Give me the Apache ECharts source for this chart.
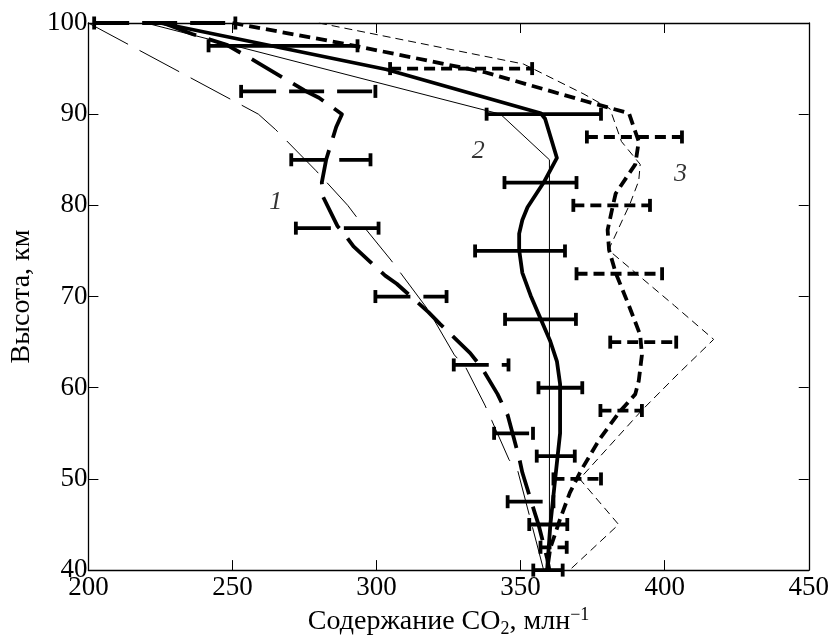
<!DOCTYPE html>
<html><head><meta charset="utf-8">
<script src="https://cdn.jsdelivr.net/npm/echarts@6/dist/echarts.min.js"></script>
<style>html,body{margin:0;padding:0;background:#fff}#c{width:832px;height:643px}</style>
</head><body><div id="c"></div>
<script>
// Axis ranges / ticks
const xMin = 200, xMax = 450, xStep = 50;
const yMin = 40, yMax = 100, yStep = 10;

// Measured profile 1 (thick long dash): [CO2, altitude]
const curve1 = [[226,100],[236,98.8],[248,97.6],[258,95.8],[275,92.6],[280,91.8],[288,90],[286,88.6],[282.5,85],[281,82.5],[281.5,80.9],[286.5,77.7],[289,76.8],[292,75.5],[303,72.3],[307,71.4],[318,68.3],[322,67],[332.5,63.8],[336.5,62.2],[342,59.3],[345.5,57],[349.5,52.3],[350.6,50.7],[355,46.2],[356.3,44.9],[359.2,41.3],[360,40]];
// Measured profile 2 (thick solid)
const curve2 = [[225,100],[303.5,94.9],[357,90.1],[358.5,89.5],[362.6,85.2],[358,82.5],[352.4,79.8],[350.6,78.4],[349.5,76.9],[349.5,75.1],[350.6,72.6],[353.5,70.1],[356.9,67.6],[360.3,65.1],[362.6,62.9],[363.7,60.4],[363.7,55],[362,50],[360.3,44.9],[359.2,40]];
// Measured profile 3 (thick short dash)
const curve3 = [[250,100],[287.6,97.8],[310.4,96.35],[337.6,94.6],[371.7,91.5],[387.6,90.1],[391,87],[389.8,84.5],[383,81.3],[381.9,79.8],[380.2,77.3],[380.7,75.1],[383,72.6],[387.6,69],[391.5,65.8],[392.1,63.6],[391,60.75],[389.8,59.3],[384.2,57.3],[377.3,54.3],[371.1,51],[367.1,48.5],[363.7,45.6],[360.3,42.4],[359.2,40]];
// Model profiles (thin lines)
const model1 = [[200,100],[259,90],[265,88.3],[279,83.8],[290,80],[296,77.5],[305,74],[318,68.5],[327,63.6],[331,62.2],[337.6,58.1],[340,56.4],[346,52.1],[349,50.9],[358,40]];
const model2 = [[220,100],[343,90],[360,85],[360,40]];
const model3 = [[280,100],[351,95.5],[372,92.2],[381,90.6],[385,87],[391.5,84.5],[391,82.7],[388,80.2],[380.5,75.1],[403.4,69],[417,65.3],[404.6,61.5],[392,57.5],[370.5,50],[384,45],[367,40]];
// Error bars: [altitude, low, high]
const err1 = [[100,202,251],[92.5,253,299.6],[85,270.4,297.9],[77.5,272,300.7],[70,299.6,324.3],[62.5,326.8,345.8],[55,340.8,354.3],[47.5,345.5,361.4],[40,354.4,364.6]];
const err2 = [[97.5,241.7,293.4],[90,338.2,377.9],[82.5,344.4,369.4],[75,334.2,365.4],[67.5,344.6,369.2],[60,356.2,371.4],[52.5,355.6,368.8],[45,353,366.2]];
const err3 = [[95,304.7,354],[87.5,373,406],[80,368.3,394.9],[72.5,369.4,399.1],[65,381.1,404],[57.5,377.7,392.1],[50,361.4,377.9],[42.5,356.9,366]];
// Curve labels: [CO2, altitude, text]
const curveLabels = [[265,80.4,'1'],[335.3,85.9,'2'],[405.5,83.4,'3']];

const FONT = 'Liberation Serif';
const DASH_LONG = [35,13], DASH_SHORT = [11,6], DASH_THIN_LONG = [45,13], DASH_THIN_SHORT = [8,5];

function errSeries(data, dash) {
  return {
    type: 'custom', coordinateSystem: 'cartesian2d', xAxisIndex: 0, yAxisIndex: 0, z: 5,
    encode: {x: [1,2], y: 0},
    data: data,
    renderItem: function (params, api) {
      const h = api.value(0), lo = api.value(1), hi = api.value(2);
      const a = api.coord([lo, h]), b = api.coord([hi, h]);
      const w = 3.8, ch = 6.5;
      return {type: 'group', children: [
        {type: 'line', shape: {x1: a[0], y1: a[1], x2: b[0], y2: b[1]}, style: {stroke: '#000', lineWidth: w, lineDash: dash}},
        {type: 'line', shape: {x1: a[0], y1: a[1]-ch, x2: a[0], y2: a[1]+ch}, style: {stroke: '#000', lineWidth: w}},
        {type: 'line', shape: {x1: b[0], y1: b[1]-ch, x2: b[0], y2: b[1]+ch}, style: {stroke: '#000', lineWidth: w}}
      ]};
    }
  };
}
function lineSeries(data, width, dash) {
  return {type: 'line', data: data, symbol: 'none', smooth: false, z: 3,
    lineStyle: {color: '#000', width: width, type: dash || 'solid', cap: 'butt', join: 'round'}};
}

const axisCommon = {
  type: 'value', splitLine: {show: false},
  axisLine: {show: true, onZero: false, lineStyle: {color: '#000', width: 1.3}},
  axisTick: {show: true, inside: true, length: 10, lineStyle: {color: '#000', width: 1}}
};

const chart = echarts.init(document.getElementById('c'), null, {renderer: 'canvas'});
chart.setOption({
  animation: false,
  backgroundColor: '#fff',
  grid: {left: 76, right: 22, top: 23, bottom: 64, containLabel: false},
  xAxis: [
    Object.assign({}, axisCommon, {position: 'bottom', min: xMin, max: xMax, interval: xStep,
      axisLabel: {color: '#000', fontFamily: FONT, fontSize: 27, margin: 4},
      name: 'Содержание CO{sub|2}, млн{sup|−1}', nameLocation: 'middle', nameGap: 31,
      nameTextStyle: {color: '#000', fontFamily: FONT, fontSize: 28, lineHeight: 32,
        rich: {sub: {fontFamily: FONT, fontSize: 18, lineHeight: 15, verticalAlign: 'bottom'},
               sup: {fontFamily: FONT, fontSize: 18, lineHeight: 15, verticalAlign: 'top'}}}}),
    Object.assign({}, axisCommon, {position: 'top', min: xMin, max: xMax, interval: xStep, axisLabel: {show: false}})
  ],
  yAxis: [
    Object.assign({}, axisCommon, {position: 'left', min: yMin, max: yMax, interval: yStep,
      axisLabel: {color: '#000', fontFamily: FONT, fontSize: 27, margin: 1},
      name: 'Высота, км', nameLocation: 'middle', nameGap: 33, nameRotate: 90,
      nameTextStyle: {color: '#000', fontFamily: FONT, fontSize: 28}}),
    Object.assign({}, axisCommon, {position: 'right', min: yMin, max: yMax, interval: yStep, axisLabel: {show: false}})
  ],
  series: [
    lineSeries(model1, 1, DASH_THIN_LONG),
    lineSeries(model2, 1, 'solid'),
    lineSeries(model3, 1, DASH_THIN_SHORT),
    lineSeries(curve1, 3.8, DASH_LONG),
    lineSeries(curve2, 3.8, 'solid'),
    lineSeries(curve3, 3.8, DASH_SHORT),
    errSeries(err1, DASH_LONG),
    errSeries(err2, null),
    errSeries(err3, DASH_SHORT),
    {type: 'scatter', data: curveLabels, symbolSize: 0, z: 6,
      label: {show: true, position: 'inside', color: '#000', fontFamily: FONT, fontStyle: 'italic', fontSize: 26,
        formatter: function (p) { return p.data[2]; }}}
  ]
});
</script></body></html>
